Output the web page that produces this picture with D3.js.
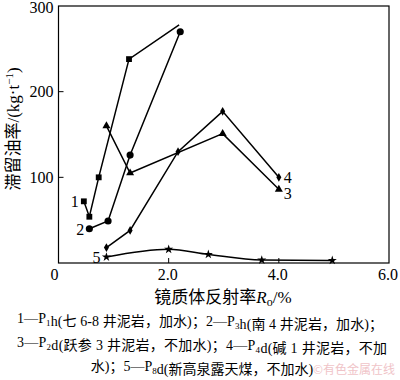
<!DOCTYPE html>
<html>
<head>
<meta charset="utf-8">
<script src="https://cdn.jsdelivr.net/npm/d3@7"></script>
<style>
  html, body { margin: 0; padding: 0; background: #fff; }
  svg { display: block; }
</style>
</head>
<body>
<script>
// ---- data ----
const s1x = [0.46, 0.56, 0.73, 1.28, 2.19];
const s1y = [72, 54, 100, 238, 278];
const s2x = [0.56, 0.90, 1.30, 2.21];
const s2y = [40, 49, 126, 270];
const s3x = [0.87, 1.30, 2.98, 4.00];
const s3y = [160, 105, 151, 86];
const s4x = [0.87, 1.30, 2.17, 2.98, 4.00];
const s4y = [18, 38, 130, 177, 100];
const s5x = [0.87, 2.00, 2.72, 3.69, 4.97];
const s5y = [7, 16, 10, 3.5, 3];
const seriesNames = ["1", "2", "3", "4", "5"];
const xTicks = [0, 2, 4, 6];
const xTickLabels = ["0", "2.0", "4.0", "6.0"];
const yTicks = [100, 200, 300];
const legendLines = [
  "1—P1h(七 6-8 井泥岩，加水)；2—P3h(南 4 井泥岩，加水)；",
  "3—P2d(跃参 3 井泥岩，不加水)；4—P4d(碱 1 井泥岩，不加",
  "水)；5—P8d(新高泉露天煤，不加水)"
];

const W = 400, H = 380;
const svg = d3.select("body").append("svg").attr("width", W).attr("height", H);
const x = d3.scaleLinear().domain([0, 6]).range([58.5, 389]);
const y = d3.scaleLinear().domain([0, 300]).range([263, 6]);
const serif = "'Liberation Serif', 'DejaVu Serif', serif";
const cjk = "'Noto Sans CJK SC', sans-serif";
const mixed = "'Liberation Serif', 'Noto Sans CJK SC', serif";

// frame
svg.append("rect").attr("x", x(0)).attr("y", y(300))
  .attr("width", x(6) - x(0)).attr("height", y(0) - y(300))
  .attr("fill", "none").attr("stroke", "#000").attr("stroke-width", 1.2);

// ticks
svg.append("g").selectAll("line").data(yTicks.filter(d => d < 300)).join("line")
  .attr("x1", x(0)).attr("x2", x(0) + 5).attr("y1", d => y(d)).attr("y2", d => y(d))
  .attr("stroke", "#000").attr("stroke-width", 1);
svg.append("g").selectAll("line").data(xTicks.filter(d => d > 0 && d < 6)).join("line")
  .attr("x1", d => x(d)).attr("x2", d => x(d)).attr("y1", y(0)).attr("y2", y(0) - 5)
  .attr("stroke", "#000").attr("stroke-width", 1);

// tick labels
svg.append("g").selectAll("text").data(yTicks).join("text")
  .attr("x", x(0) - 5).attr("y", d => y(d) + (d === 300 ? 1.5 : 0)).attr("dy", "0.35em")
  .attr("text-anchor", "end").attr("font-family", serif).attr("font-size", 16)
  .text(d => d);
svg.append("g").selectAll("text").data(xTicks).join("text")
  .attr("x", (d, i) => x(d) + (i === 0 ? -4 : -1))
  .attr("y", 280)
  .attr("text-anchor", "middle").attr("font-family", serif).attr("font-size", 16)
  .text((d, i) => xTickLabels[i]);

// axis titles
const xt = svg.append("text").attr("x", 223).attr("y", 303).attr("text-anchor", "middle")
  .attr("font-family", cjk).attr("font-size", 17);
xt.append("tspan").text("镜质体反射率");
xt.append("tspan").attr("font-family", serif).attr("font-style", "italic").text("R");
xt.append("tspan").attr("font-family", serif).attr("font-size", 12).attr("dy", 3).text("o");
xt.append("tspan").attr("font-family", serif).attr("dy", -3).text("/%");

const yt = svg.append("text").attr("transform", "translate(19,129) rotate(-90)")
  .attr("text-anchor", "middle").attr("font-family", cjk).attr("font-size", 17);
yt.append("tspan").text("滞留油率");
yt.append("tspan").attr("font-family", serif).text("/(kg·t");
yt.append("tspan").attr("font-family", serif).attr("font-size", 11).attr("dy", -6).text("−1");
yt.append("tspan").attr("font-family", serif).attr("dy", 6).text(")");

// series (series 1 has no marker on its last point)
const series = [
  { xs: s1x, ys: s1y, sym: d3.symbolSquare, size: 34, curve: d3.curveLinear, marked: 4 },
  { xs: s2x, ys: s2y, sym: d3.symbolCircle, size: 40, curve: d3.curveLinear, marked: 4 },
  { xs: s3x, ys: s3y, sym: d3.symbolTriangle, size: 28, curve: d3.curveLinear, marked: 4 },
  { xs: s4x, ys: s4y, sym: d3.symbolDiamond, size: 22, curve: d3.curveLinear, marked: 5 },
  { xs: s5x, ys: s5y, sym: d3.symbolStar, size: 26, curve: d3.curveMonotoneX, marked: 5 }
];
series.forEach(s => {
  const pts = s.xs.map((v, i) => [v, s.ys[i]]);
  svg.append("path").datum(pts)
    .attr("d", d3.line().x(d => x(d[0])).y(d => y(d[1])).curve(s.curve))
    .attr("fill", "none").attr("stroke", "#000").attr("stroke-width", 1.5);
  svg.append("g").selectAll("path").data(pts.slice(0, s.marked)).join("path")
    .attr("transform", d => `translate(${x(d[0])},${y(d[1])})`)
    .attr("d", d3.symbol().type(s.sym).size(s.size)).attr("fill", "#000");
});

// series number labels
const labelAt = [
  { s: 0, i: 0, dx: -9, dy: 0 },
  { s: 1, i: 0, dx: -9, dy: 1 },
  { s: 2, i: 3, dx: 9, dy: 4 },
  { s: 3, i: 4, dx: 9, dy: 0 },
  { s: 4, i: 0, dx: -10, dy: 0 }
];
svg.append("g").selectAll("text").data(labelAt).join("text")
  .attr("x", d => x(series[d.s].xs[d.i]) + d.dx)
  .attr("y", d => y(series[d.s].ys[d.i]) + d.dy)
  .attr("dy", "0.35em").attr("text-anchor", "middle")
  .attr("font-family", serif).attr("font-size", 16)
  .text(d => seriesNames[d.s]);

// legend text with subscripts
function richLine(sel, str) {
  const re = /(P)(\d)/g;
  let last = 0, m;
  while ((m = re.exec(str)) !== null) {
    sel.append("tspan").text(str.slice(last, m.index + 1));
    sel.append("tspan").attr("font-size", 9).attr("dy", 3).text(m[2]);
    sel.append("tspan").attr("dy", -3).text("");
    last = m.index + 2;
  }
  sel.append("tspan").text(str.slice(last));
}
const legendPos = [
  { x: 17, y: 323, len: 366, anchor: "start" },
  { x: 17, y: 347, len: 370, anchor: "start" },
  { x: 202, y: 371, len: null, anchor: "middle" }
];
legendLines.forEach((ln, i) => {
  const p = legendPos[i];
  const t = svg.append("text").attr("x", p.x).attr("y", p.y)
    .attr("text-anchor", p.anchor)
    .attr("font-family", mixed).attr("font-size", 14);
  if (p.len) t.attr("textLength", p.len).attr("lengthAdjust", "spacing");
  richLine(t, ln);
});

// watermark
svg.append("text").attr("x", 395).attr("y", 374).attr("text-anchor", "end")
  .attr("font-family", cjk).attr("font-size", 12).attr("fill", "#f0c4c8")
  .text("©有色金属在线");
</script>
</body>
</html>
